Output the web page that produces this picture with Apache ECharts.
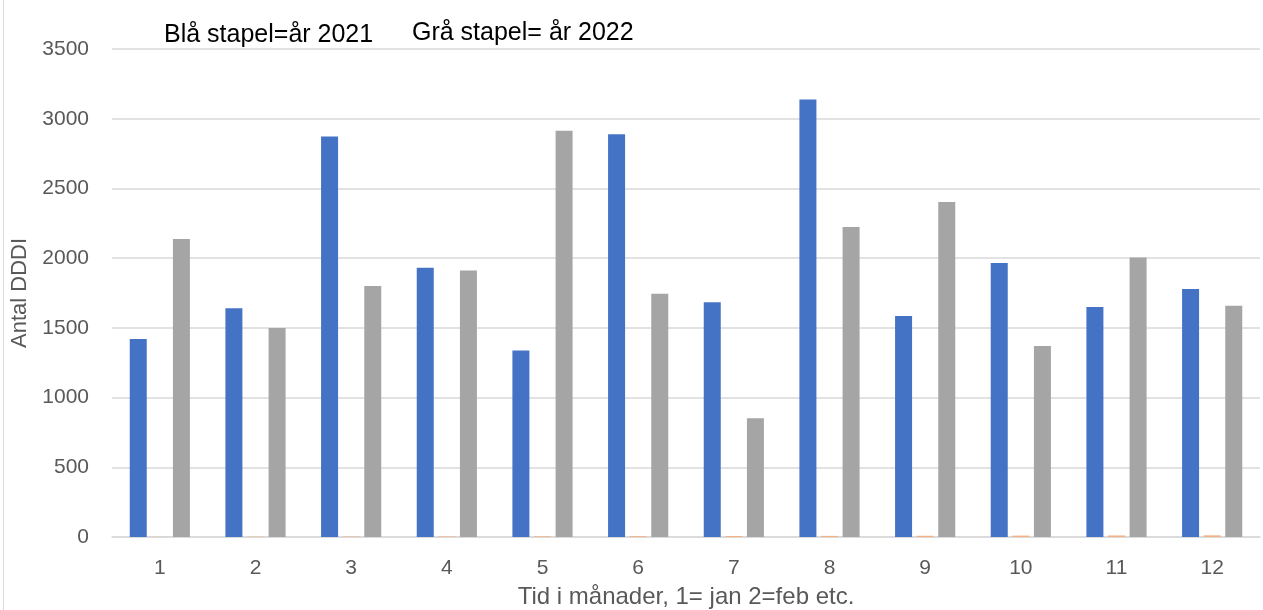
<!DOCTYPE html>
<html>
<head>
<meta charset="utf-8">
<script src="https://cdn.jsdelivr.net/npm/echarts@6/dist/echarts.min.js"></script>
<style>html,body{margin:0;padding:0;background:#fff}#c{width:1263px;height:610px}</style>
</head>
<body>
<div id="c"></div>
<script>
const months = ['1','2','3','4','5','6','7','8','9','10','11','12'];
const year2021 = [1420, 1641, 2872, 1931, 1337, 2889, 1683, 3137, 1585, 1965, 1649, 1778];
const monthIndex = [1, 2, 3, 4, 5, 6, 7, 8, 9, 10, 11, 12];
const year2022 = [2138, 1499, 1800, 1912, 2914, 1744, 851, 2224, 2403, 1370, 2004, 1658];
const yTicks = [0, 500, 1000, 1500, 2000, 2500, 3000, 3500];

const FONT = 'Liberation Sans, Arial, sans-serif';
const chart = echarts.init(document.getElementById('c'));
chart.setOption({
  animation: false,
  backgroundColor: '#fff',
  grid: { left: 112, right: 3, top: 49, bottom: 73, containLabel: false, outerBoundsMode: 'none' },
  title: [
    { text: 'Blå stapel=år 2021', left: 159, top: 18, textStyle: { fontFamily: FONT, fontSize: 25, fontWeight: 'normal', color: '#000' } },
    { text: 'Grå stapel= år 2022', left: 407, top: 16, textStyle: { fontFamily: FONT, fontSize: 25, fontWeight: 'normal', color: '#000' } }
  ],
  xAxis: {
    type: 'category',
    data: months,
    name: 'Tid i månader, 1= jan 2=feb etc.',
    nameLocation: 'middle',
    nameGap: 48,
    nameTextStyle: { fontFamily: FONT, fontSize: 24, color: '#595959' },
    axisLine: { lineStyle: { color: '#d9d9d9', width: 1.5 } },
    axisTick: { show: false },
    axisLabel: { fontFamily: FONT, fontSize: 21, color: '#595959', margin: 21 }
  },
  yAxis: {
    type: 'value',
    min: yTicks[0],
    max: yTicks[yTicks.length - 1],
    interval: 500,
    name: 'Antal DDDI',
    nameLocation: 'middle',
    nameGap: 80,
    nameTextStyle: { fontFamily: FONT, fontSize: 22, color: '#595959' },
    axisLine: { show: false },
    axisTick: { show: false },
    splitLine: { lineStyle: { color: '#d9d9d9', width: 1.5 } },
    axisLabel: { fontFamily: FONT, fontSize: 21, color: '#595959', margin: 23, formatter: v => String(v) }
  },
  series: [
    { type: 'bar', name: '2021', data: year2021, barWidth: 17, barGap: '27%', itemStyle: { color: '#4472c4' } },
    { type: 'bar', name: 'index', data: monthIndex, barWidth: 17, barGap: '27%', itemStyle: { color: '#f4b183' } },
    { type: 'bar', name: '2022', data: year2022, barWidth: 17, barGap: '27%', itemStyle: { color: '#a5a5a5' } }
  ],
  graphic: [
    { type: 'line', shape: { x1: 3.5, y1: 0, x2: 3.5, y2: 610 }, style: { stroke: '#d9d9d9', lineWidth: 1 } }
  ]
});
</script>
</body>
</html>
